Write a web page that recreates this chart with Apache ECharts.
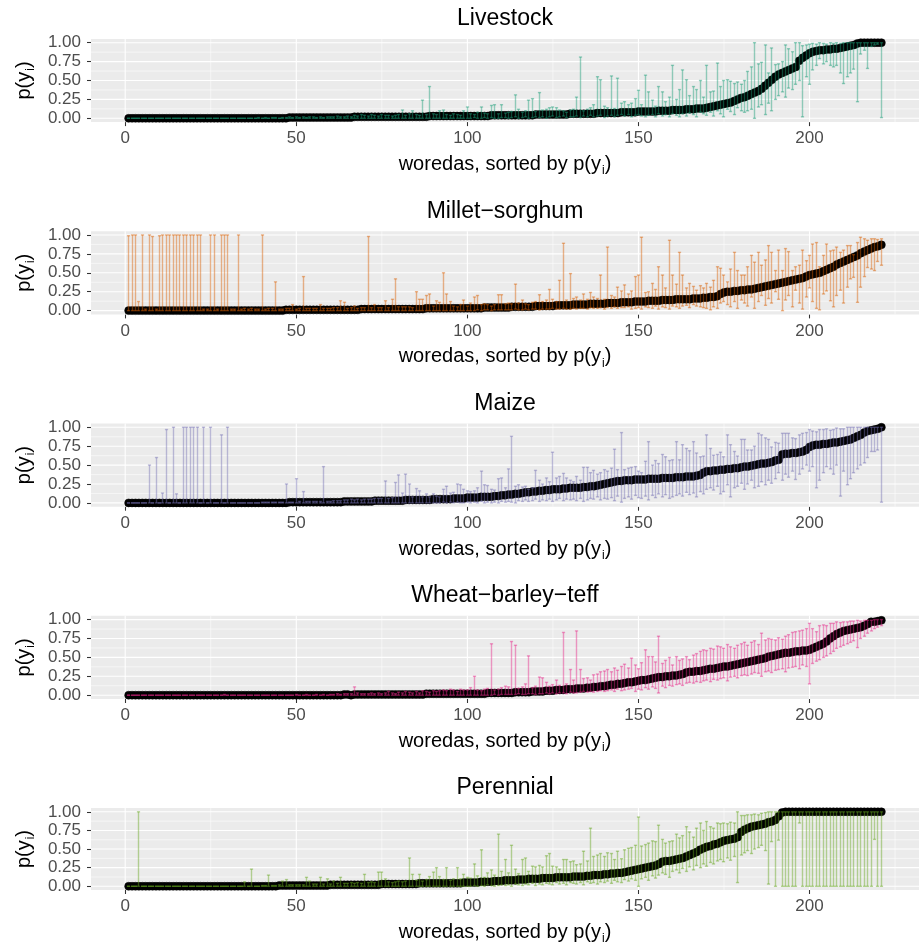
<!DOCTYPE html>
<html>
<head>
<meta charset="utf-8">
<script src="https://cdn.jsdelivr.net/npm/echarts@6/dist/echarts.min.js"></script>
<style>
  html, body { margin: 0; padding: 0; background: #ffffff; }
  #chart { width: 923px; height: 946px; }
</style>
</head>
<body>
<div id="chart"></div>
<script>
// Posterior probability p(y_i) per woreda (percent), sorted ascending,
// with lower / upper interval bounds, one panel per livelihood zone.

const panelTitles = ['Livestock', 'Millet\u2212sorghum', 'Maize', 'Wheat\u2212barley\u2212teff', 'Perennial'];
const xTickValues = [0, 50, 100, 150, 200];
const xMinorValues = [25, 75, 125, 175, 225];
const yTickValues = [0, 0.25, 0.5, 0.75, 1];
const yMinorValues = [0.125, 0.375, 0.625, 0.875];

const livestockP = [
  0,0,0,0,0,0,0,0,0,0, 0,0,0,0,0,0,0,0,0,0, 0,0,0,0,0,0,0,0,0,0, 0,0,0,0,0,0,0,0,0,0,
  0,0,0,0,0,0,0,1,1,1, 1,1,1,1,1,1,1,1,1,1, 1,1,1,1,1,1,2,2,2,2, 2,2,2,2,2,2,2,2,2,2,
  2,2,2,2,2,2,2,2,3,3, 3,3,3,3,3,3,3,3,3,3, 3,3,3,3,3,3,4,4,4,4, 4,4,4,4,4,4,4,4,4,5,
  5,5,5,5,5,5,5,5,5,6, 6,6,6,6,6,6,6,7,7,7, 7,7,7,7,8,8,8,8,8,9, 9,9,9,9,9,10,10,10,10,11,
  11,11,11,12,12,12,13,13,13,14, 15,16,17,18,19,20,21,23,25,27, 28,30,32,34,36,39,43,47,51,55,
  58,60,62,64,66,68,76,80,83,86, 88,89,90,90,91,91,92,92,93,94, 95,96,97,99,100,100,100,100,100,100,
  100
];
const livestockLo = [
  0,0,0,0,0,0,0,0,0,0, 0,0,0,0,0,0,0,0,0,0, 0,0,0,0,0,0,0,0,0,0, 0,0,0,0,0,0,0,0,0,0,
  0,0,0,0,0,0,0,0,0,0, 0,0,0,0,0,0,0,0,0,0, 0,0,0,0,0,0,0,0,0,0, 0,0,0,0,0,0,0,0,0,0,
  0,0,0,0,0,0,0,0,0,0, 0,0,0,0,0,0,0,0,0,0, 0,1,0,0,1,0,1,0,0,1, 1,0,1,2,0,1,2,0,1,2,
  1,2,0,2,3,1,2,3,1,2, 2,3,1,3,2,4,2,3,4,1, 3,4,2,4,5,3,5,2,4,5, 3,2,4,5,2,6,3,5,2,6,
  4,2,6,3,7,5,2,8,6,4, 8,3,10,6,2,12,9,5,14,10, 8,10,12,0,15,18,5,20,10,25,
  30,35,28,40,38,45,50,2,55,45, 64,70,79,72,75,70,68,70,60,46, 55,60,65,22,85,90,66,95,97,98,
  1
];
const livestockHi = [
  0,0,0,0,0,0,0,0,0,0, 0,0,0,0,0,0,0,0,0,0, 0,0,0,0,0,0,0,0,0,0, 0,0,0,0,0,0,0,0,1,0,
  1,0,1,1,0,1,1,2,1,2, 1,2,1,2,2,1,2,1,2,2, 2,3,2,2,3,2,4,3,5,4, 3,5,4,3,5,4,4,3,4,5,
  11,4,6,10,5,4,24,5,42,6, 5,10,11,5,4,6,5,4,10,15, 6,5,8,15,7,6,17,18,6,18, 7,8,9,31,12,8,10,24,26,9,
  34,11,12,14,15,14,11,10,8,11, 12,28,81,10,12,14,18,55,51,16, 14,56,13,53,20,22,18,20,26,37, 18,57,35,24,16,42,35,22,28,70,
  25,38,64,51,30,42,38,50,28,70, 35,36,73,42,50,51,49,46,48,45, 50,62,68,100,72,74,97,60,93,71,
  72,75,97,92,88,100,100,96,97,98, 99,98,100,99,98,100,99,100,99,100, 100,100,100,100,100,100,100,100,100,100,
  100
];

const milletP = [
  0,0,0,0,0,0,0,0,0,0, 0,0,0,0,0,0,0,0,0,0, 0,0,0,0,0,0,0,0,0,0, 0,0,0,0,0,0,0,0,0,0,
  0,0,0,0,0,0,1,1,1,1, 1,1,1,1,1,1,1,1,1,1, 1,1,1,1,1,1,1,1,2,2, 2,2,2,2,2,2,2,2,2,2,
  2,2,2,2,2,2,2,3,3,3, 3,3,3,3,3,3,3,3,3,3, 3,3,3,3,4,4,4,4,4,4, 4,4,5,5,5,5,5,5,5,6,
  6,6,6,6,6,7,7,7,7,7, 8,8,8,8,8,9,9,9,9,9, 10,10,10,10,11,11,11,11,12,12, 12,12,13,13,13,13,14,14,14,14,
  15,15,15,15,15,16,16,16,17,17, 18,18,19,22,24,25,25,26,26,27, 27,28,28,29,30,31,32,33,34,35,
  36,37,38,39,40,41,42,43,45,47, 48,49,50,52,54,56,58,61,63,65, 67,69,71,73,76,78,80,82,84,85,
  87
];
const milletLo = [
  0,0,0,0,0,0,0,0,0,0, 0,0,0,0,0,0,0,0,0,0, 0,0,0,0,0,0,0,0,0,0, 0,0,0,0,0,0,0,0,0,0,
  0,0,0,0,0,0,0,0,0,0, 0,0,0,0,0,0,0,0,0,0, 0,0,0,0,0,0,0,0,0,0, 0,0,0,0,0,0,0,0,0,0,
  0,0,0,0,0,0,0,0,0,0, 0,0,0,0,0,0,0,0,0,0, 0,0,1,0,1,1,0,1,1,1, 1,1,1,2,1,1,2,1,2,2,
  1,2,2,2,3,2,2,3,2,2, 3,2,3,3,2,4,3,3,4,2, 4,3,5,3,4,4,5,2,3,4, 2,5,4,3,6,2,5,4,2,6,
  5,3,6,7,4,8,6,5,4,3, 1,5,3,10,12,8,5,12,3,14, 10,6,18,3,12,20,7,16,10,25,
  15,0,14,20,5,27,10,2,18,30, 12,3,1,22,26,13,5,20,27,10, 31,42,44,11,31,45,57,55,53,65,
  60
];
const milletHi = [
  99,100,100,12,100,2,100,98,2,99, 100,100,100,100,100,100,100,100,100,100, 100,100,2,2,100,100,2,100,100,100, 2,2,100,2,3,2,3,2,2,100,
  2,3,3,38,2,2,3,3,8,2, 3,45,3,3,3,3,8,3,3,3, 4,4,13,11,3,4,6,3,4,4, 98,4,8,4,4,13,4,15,42,5,
  5,5,5,4,25,15,15,20,22,6, 13,11,50,22,12,6,5,8,14,6, 10,18,20,8,9,8,6,8,21,21, 9,10,9,35,10,14,9,8,11,12,
  21,12,14,28,15,12,40,89,14,49, 16,18,14,22,15,24,18,16,47,15, 84,20,18,31,26,34,22,26,45,47, 97,24,25,36,28,58,47,30,93,47,
  35,77,47,30,36,32,27,33,30,36, 31,40,58,56,47,38,55,77,53,47, 47,58,73,64,77,60,67,86,77,53,
  80,53,82,78,53,58,60,80,66,73, 88,90,58,73,88,79,80,84,77,80, 86,86,74,90,97,95,93,95,95,94,
  95
];

const maizeP = [
  0,0,0,0,0,0,0,0,0,0, 0,0,0,0,0,0,0,0,0,0, 0,0,0,0,0,0,0,0,0,0, 0,0,0,0,0,0,0,0,0,0,
  0,0,0,0,0,0,0,1,1,1, 1,1,1,1,1,1,1,1,1,1, 1,1,1,2,2,2,2,2,2,2, 2,2,3,3,3,3,3,3,3,3,
  3,4,4,4,4,4,4,4,4,5, 5,5,5,5,5,6,6,6,6,7, 7,7,7,8,8,8,8,9,9,10, 10,11,11,12,12,13,14,14,15,15,
  16,16,17,17,18,18,18,19,19,20, 20,20,20,21,21,22,22,23,24,25, 26,27,28,29,29,30,30,30,31,31, 31,31,32,32,32,32,33,33,33,33,
  34,34,34,35,35,35,36,37,40,42, 42,43,43,44,44,45,45,46,46,47, 48,48,49,50,51,52,52,53,54,56,
  57,64,65,65,66,66,67,68,70,74, 76,77,77,78,78,79,80,80,81,82, 83,84,86,88,90,93,95,96,97,98,
  100
];
const maizeLo = [
  0,0,0,0,0,0,0,0,0,0, 0,0,0,0,0,0,0,0,0,0, 0,0,0,0,0,0,0,0,0,0, 0,0,0,0,0,0,0,0,0,0,
  0,0,0,0,0,0,0,0,0,0, 0,0,0,0,0,0,0,0,0,0, 0,0,0,0,0,0,0,0,0,0, 0,0,0,0,0,0,0,0,0,0,
  0,0,0,0,0,0,0,0,0,0, 0,0,1,0,1,0,1,0,0,1, 0,1,0,2,0,1,0,1,0,2, 1,2,1,0,3,2,4,2,3,5,
  2,4,3,5,2,4,6,3,5,4, 5,3,6,2,4,6,5,8,4,6, 5,7,3,9,1,6,8,5,10,7, 6,9,4,10,7,12,8,11,6,8,
  10,12,9,14,11,13,8,15,12,18, 20,17,22,12,15,24,8,20,22,26, 18,25,30,20,22,28,24,30,26,32,
  40,30,38,34,42,31,38,45,50,42, 48,20,30,40,48,45,38,50,9,42, 24,32,40,45,50,53,60,68,68,70,
  1
];
const maizeHi = [
  0,0,0,0,0,0,50,0,60,0, 13,97,0,100,12,0,100,100,100,100, 100,0,100,0,100,0,0,90,0,100, 0,0,0,0,0,0,0,0,0,1,
  1,1,1,1,1,1,25,1,1,32, 2,15,2,2,2,2,2,48,2,2, 3,3,3,4,4,5,4,5,4,5, 5,5,6,6,6,29,6,7,27,37,
  13,38,25,8,19,16,8,12,8,12, 9,8,18,22,13,14,25,24,18,16, 15,16,20,42,24,23,18,17,32,33, 20,45,88,22,24,21,22,18,20,43,
  30,25,33,28,67,33,35,39,33,30, 28,35,30,47,47,40,43,38,40,44, 42,46,71,44,93,44,46,47,48,42, 40,55,81,50,56,52,64,61,56,57,
  81,57,77,72,69,81,66,61,62,90, 72,63,64,67,61,90,77,68,62,84, 84,70,70,75,92,90,86,84,74,80,
  79,92,92,92,86,85,90,92,93,97, 95,94,97,97,98,96,97,99,98,98, 100,100,100,100,100,100,100,100,100,100,
  100
];

const wheatP = [
  0,0,0,0,0,0,0,0,0,0, 0,0,0,0,0,0,0,0,0,0, 0,0,0,0,0,0,0,0,0,0, 0,0,0,0,0,0,0,0,0,0,
  0,0,0,0,0,0,0,0,0,0, 0,0,0,0,0,0,0,0,0,0, 0,0,0,1,1,0,1,1,1,1, 1,1,1,1,1,1,1,1,1,1,
  1,1,1,1,1,1,1,2,2,2, 2,2,2,2,2,2,2,2,2,2, 2,2,2,2,2,3,3,3,3,3, 3,3,3,4,4,4,4,4,5,5,
  5,5,6,6,6,7,7,7,8,8, 8,9,9,9,10,10,11,11,12,12, 13,14,14,15,15,16,17,17,18,19, 20,20,21,22,23,24,24,25,25,26,
  26,27,28,30,31,31,32,32,33,34, 35,35,36,37,38,38,39,40,41,42, 43,44,45,46,47,48,49,51,52,53,
  54,55,56,56,57,58,58,59,59,60, 62,64,66,68,71,75,78,81,83,85, 86,87,88,89,90,92,94,97,97,98,
  99
];
const wheatLo = [
  0,0,0,0,0,0,0,0,0,0, 0,0,0,0,0,0,0,0,0,0, 0,0,0,0,0,0,0,0,0,0, 0,0,0,0,0,0,0,0,0,0,
  0,0,0,0,0,0,0,0,0,0, 0,0,0,0,0,0,0,0,0,0, 0,0,0,0,0,0,0,0,0,0, 0,0,0,0,0,0,0,0,0,0,
  0,0,0,0,0,0,0,0,0,0, 0,0,0,0,0,0,0,0,0,0, 0,0,0,0,0,0,0,1,0,1, 1,1,1,1,2,1,1,2,2,1,
  2,2,3,2,3,2,3,3,2,4, 3,3,4,5,4,5,4,5,6,5, 6,7,5,8,6,7,8,9,5,8, 7,10,8,11,9,3,12,10,13,12,
  14,15,13,16,17,16,18,17,19,20, 18,21,20,22,23,19,24,25,23,26, 27,26,28,30,29,25,31,32,30,33,
  34,35,31,36,37,38,35,40,38,15, 42,45,47,50,52,55,58,62,64,66, 68,70,72,63,75,78,82,85,88,90,
  92
];
const wheatHi = [
  0,0,0,0,0,0,0,0,0,0, 0,0,0,0,0,0,0,0,0,0, 0,0,0,0,0,0,0,0,1,0, 0,0,0,0,0,0,0,0,0,0,
  0,0,0,0,0,0,0,0,0,1, 0,0,1,0,0,1,0,1,0,1, 1,2,1,2,2,2,11,3,2,2, 2,3,2,3,2,3,5,3,2,4,
  3,5,4,3,5,3,6,5,4,6, 5,6,7,6,8,7,5,8,7,7, 10,25,7,6,8,9,68,7,8,10, 12,11,71,66,9,11,15,52,10,12,
  24,23,17,12,14,20,13,83,15,34, 20,85,34,22,23,20,27,28,31,32, 34,31,36,33,38,41,36,49,40,35, 43,60,51,51,44,78,42,46,50,40,
  51,46,48,51,47,53,55,58,60,59, 62,61,65,64,62,67,64,62,66,68, 70,66,70,72,67,82,73,75,74,73,
  76,74,78,80,83,84,85,86,88,95, 88,84,92,93,92,95,95,97,96,97, 97,98,98,99,98,99,99,99,100,100,
  100
];

const perennialP = [
  0,0,0,0,0,0,0,0,0,0, 0,0,0,0,0,0,0,0,0,0, 0,0,0,0,0,0,0,0,0,0, 0,0,0,0,0,0,0,0,0,0,
  0,0,0,0,1,1,1,1,1,1, 1,1,1,1,1,1,1,1,1,2, 2,2,2,2,2,2,2,2,2,2, 2,2,2,2,3,3,3,3,3,3,
  3,3,3,3,3,4,4,4,4,4, 4,4,4,4,4,4,4,4,5,5, 5,5,5,6,6,6,6,7,7,7, 8,8,8,8,9,9,9,10,10,10,
  10,11,11,11,11,12,12,12,12,12, 13,13,13,13,14,14,15,15,15,16, 16,17,17,18,18,19,20,21,22,23, 24,25,26,27,28,30,33,34,34,35,
  36,37,38,40,42,44,46,49,51,53, 54,56,57,59,61,62,63,64,66,73, 76,78,80,81,82,83,84,86,87,89,
  94,99,100,100,100,100,100,100,100,100, 100,100,100,100,100,100,100,100,100,100, 100,100,100,100,100,100,100,100,100,100,
  100
];
const perennialLo = [
  0,0,0,0,0,0,0,0,0,0, 0,0,0,0,0,0,0,0,0,0, 0,0,0,0,0,0,0,0,0,0, 0,0,0,0,0,0,0,0,0,0,
  0,0,0,0,0,0,0,0,0,0, 0,0,0,0,0,0,0,0,0,0, 0,0,0,0,0,0,0,0,0,0, 0,0,0,0,0,0,0,0,0,0,
  0,0,0,0,0,0,0,0,0,0, 0,0,0,0,0,0,0,0,0,0, 0,1,0,1,0,2,1,0,1,2, 1,2,0,3,2,1,3,2,4,1,
  3,2,4,3,2,5,3,4,2,5, 4,3,5,2,6,4,5,3,6,5, 7,4,8,6,5,9,7,10,8,0, 10,12,8,14,11,15,18,16,12,20,
  22,18,24,20,26,22,28,25,30,27, 32,30,34,36,33,38,35,40,5,42, 45,48,44,50,52,55,48,3,60,0,
  62,0,0,0,0,0,85,0,0,0, 0,0,0,0,0,0,0,0,0,0, 0,0,0,0,0,0,0,0,63,0,
  0
];
const perennialHi = [
  0,0,0,100,0,0,0,0,0,0, 0,0,0,0,0,0,0,0,0,0, 0,0,0,0,0,0,0,0,0,0, 0,0,0,0,6,0,23,0,0,1,
  1,15,1,1,2,7,9,2,2,2, 2,2,12,7,3,3,12,3,10,3, 7,4,12,4,4,5,4,5,4,16, 5,6,5,19,19,10,6,5,6,7,
  6,7,38,16,8,16,7,9,13,19, 25,13,9,25,8,10,25,10,16,12, 11,30,14,49,12,18,22,15,70,20, 36,18,55,23,17,36,38,20,27,26,
  28,26,41,44,27,26,23,36,36,33, 34,29,30,47,34,78,40,42,44,40, 45,44,36,47,37,49,51,52,55,93, 54,56,58,61,60,82,63,58,60,61,
  70,65,68,80,73,66,78,85,75,87, 80,78,85,84,85,84,86,85,100,95, 95,96,96,97,96,98,99,100,100,100,
  100,100,100,100,100,100,100,100,100,100, 100,100,100,100,100,100,100,100,100,100, 100,100,100,100,100,100,100,100,100,100,
  100
];

const panelColors = ['#1B9E77', '#D95F02', '#7570B3', '#E7298A', '#66A61E'];
const panelData = [
  [livestockP, livestockLo, livestockHi],
  [milletP, milletLo, milletHi],
  [maizeP, maizeLo, maizeHi],
  [wheatP, wheatLo, wheatHi],
  [perennialP, perennialLo, perennialHi]
];

// ---- layout ----
const FONT = '"Liberation Sans", Arial, Helvetica, sans-serif';
const PLOT_LEFT = 91, PLOT_WIDTH = 828, PLOT_TOP = 38.9, PLOT_HEIGHT = 83.2, PANEL_STEP = 192.3;

function rgba(hex, a) {
  const n = parseInt(hex.slice(1), 16);
  return 'rgba(' + ((n >> 16) & 255) + ',' + ((n >> 8) & 255) + ',' + (n & 255) + ',' + a + ')';
}
// Snap a thin line to the pixel grid so every bar renders evenly.
const crisp = v => Math.round(v - 0.5) + 0.5;

const subRich = {
  s: { fontSize: 12, fontFamily: FONT, color: '#000', padding: [13, 0, 0, 1] }
};

// Vertical panel grid lines: one item per x value, [value, lineWidth].
function renderVerticalGrid(params, api) {
  const cs = params.coordSys;
  const x = api.coord([api.value(0), 0])[0];
  return {
    type: 'line',
    shape: { x1: x, y1: cs.y, x2: x, y2: cs.y + cs.height },
    style: { stroke: '#ffffff', lineWidth: api.value(1), fill: null }
  };
}
// Horizontal panel grid lines: one item per y value, [value, lineWidth].
function renderHorizontalGrid(params, api) {
  const cs = params.coordSys;
  const y = api.coord([0, api.value(0)])[1];
  return {
    type: 'line',
    shape: { x1: cs.x, y1: y, x2: cs.x + cs.width, y2: y },
    style: { stroke: '#ffffff', lineWidth: api.value(1), fill: null }
  };
}

// Interval bar with small end caps, drawn from [x, lower, upper].
function makeErrorBarRenderer(color) {
  const stroke = rgba(color, 0.45);
  return function (params, api) {
    const x = api.value(0);
    const top = api.coord([x, api.value(2)]);
    const bot = api.coord([x, api.value(1)]);
    const cx = crisp(top[0]);
    const hw = 1.6;
    const mk = (x1, y1, x2, y2) => ({
      type: 'line',
      shape: { x1: x1, y1: y1, x2: x2, y2: y2 },
      style: { stroke: stroke, lineWidth: 1.4, fill: null }
    });
    return {
      type: 'group',
      children: [
        mk(cx, top[1], cx, bot[1]),
        mk(cx - hw, top[1], cx + hw, top[1]),
        mk(cx - hw, bot[1], cx + hw, bot[1])
      ]
    };
  };
}

const grids = [], xAxes = [], yAxes = [], series = [], graphics = [];

panelData.forEach((arrs, k) => {
  const [p, lo, hi] = arrs;
  const top = PLOT_TOP + PANEL_STEP * k;
  grids.push({
    left: PLOT_LEFT, top: top, width: PLOT_WIDTH, height: PLOT_HEIGHT,
    show: true, backgroundColor: '#EBEBEB', borderWidth: 0, containLabel: false
  });
  xAxes.push({
    type: 'value', gridIndex: k, min: -10, max: 232,
    axisLine: { show: false, onZero: false },
    axisTick: { show: true, length: 4, customValues: xTickValues, lineStyle: { color: '#333333', width: 1.07 } },
    axisLabel: { customValues: xTickValues, margin: 8, fontSize: 17, color: '#4D4D4D', fontFamily: FONT },
    splitLine: { show: false },
    axisPointer: { show: false },
    name: 'woredas, sorted by p(y{s|i})',
    nameLocation: 'middle', nameGap: 30,
    nameTextStyle: { fontSize: 20, color: '#000', fontFamily: FONT, rich: subRich }
  });
  yAxes.push({
    type: 'value', gridIndex: k, min: -0.05, max: 1.05,
    axisLine: { show: false, onZero: false },
    axisTick: { show: true, length: 4, customValues: yTickValues, lineStyle: { color: '#333333', width: 1.07 } },
    axisLabel: {
      customValues: yTickValues, margin: 10, fontSize: 17, color: '#4D4D4D', fontFamily: FONT,
      formatter: v => v.toFixed(2)
    },
    splitLine: { show: false },
    axisPointer: { show: false },
    name: 'p(y{s|i})',
    nameLocation: 'middle', nameGap: 48,
    nameTextStyle: { fontSize: 20, color: '#000', fontFamily: FONT, rich: subRich }
  });
  series.push({
    type: 'custom', xAxisIndex: k, yAxisIndex: k, silent: true, z: 1,
    renderItem: renderVerticalGrid,
    data: xMinorValues.map(v => [v, 0.55]).concat(xTickValues.map(v => [v, 1.1]))
  });
  series.push({
    type: 'custom', xAxisIndex: k, yAxisIndex: k, silent: true, z: 1,
    renderItem: renderHorizontalGrid,
    data: yMinorValues.map(v => [v, 0.55]).concat(yTickValues.map(v => [v, 1.1]))
  });
  series.push({
    type: 'scatter', xAxisIndex: k, yAxisIndex: k, z: 2, silent: true,
    symbol: 'circle', symbolSize: 8,
    itemStyle: { color: '#000000', borderColor: '#000000', borderWidth: 0.5, opacity: 1 },
    emphasis: { disabled: true },
    data: p.map((v, i) => [i + 1, v / 100])
  });
  series.push({
    type: 'custom', xAxisIndex: k, yAxisIndex: k, z: 3, silent: true,
    renderItem: makeErrorBarRenderer(panelColors[k]),
    emphasis: { disabled: true },
    encode: { x: 0, y: [1, 2] },
    data: p.map((v, i) => [i + 1, lo[i] / 100, hi[i] / 100])
  });
  graphics.push({
    type: 'text', x: PLOT_LEFT + PLOT_WIDTH / 2, y: top - 20,
    style: { text: panelTitles[k], fill: '#000', font: '23px ' + FONT, align: 'center', verticalAlign: 'middle' }
  });
});

const chart = echarts.init(document.getElementById('chart'), null, { renderer: 'canvas' });
chart.setOption({
  animation: false,
  backgroundColor: '#ffffff',
  textStyle: { fontFamily: FONT },
  grid: grids,
  xAxis: xAxes,
  yAxis: yAxes,
  series: series,
  graphic: graphics
});
</script>
</body>
</html>
